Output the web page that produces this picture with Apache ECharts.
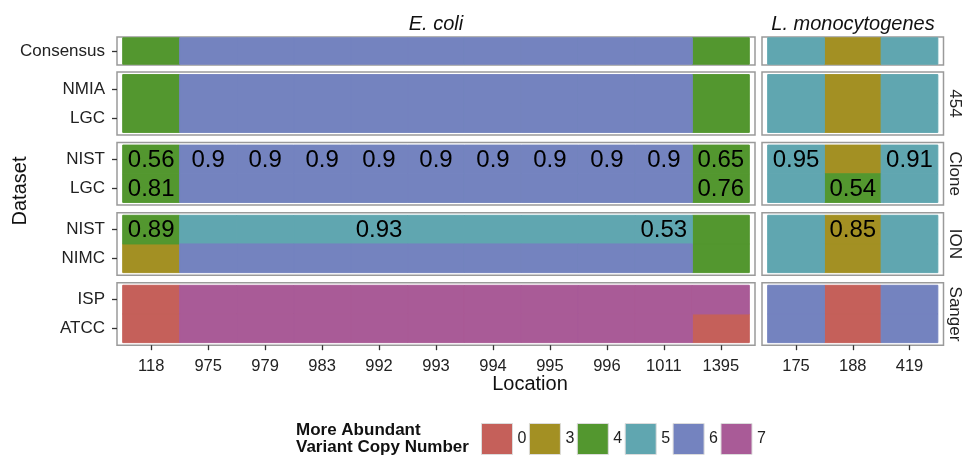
<!DOCTYPE html>
<html>
<head>
    <meta charset="utf-8" />
    <title>More abundant variant copy number</title>
    <script src="https://cdn.jsdelivr.net/npm/echarts@6/dist/echarts.min.js"></script>
    <style>
        body { margin: 0; background: #fff; }
    </style>
</head>
<body>
<div id="main" style="width: 965px;height:457px;"></div>
<script type="text/javascript">
    // facets, row labels and locations
    var facetNames = ['Consensus', '454', 'Clone', 'ION', 'Sanger'];
    var facetDatasets = [['Consensus'], ['NMIA', 'LGC'], ['NIST', 'LGC'], ['NIST', 'NIMC'], ['ISP', 'ATCC']];
    var ecoliLocations = ['118', '975', '979', '983', '992', '993', '994', '995', '996', '1011', '1395'];
    var listeriaLocations = ['175', '188', '419'];
    var copyLevels = [0, 3, 4, 5, 6, 7];
    var copyColors = ['#C5605A', '#A39023', '#53972F', '#60A6B0', '#7483BF', '#A95B97'];

    // more abundant copy number, per facet -> dataset -> location
    var ecoliCopy = [
        [[4, 6, 6, 6, 6, 6, 6, 6, 6, 6, 4]],
        [[4, 6, 6, 6, 6, 6, 6, 6, 6, 6, 4], [4, 6, 6, 6, 6, 6, 6, 6, 6, 6, 4]],
        [[4, 6, 6, 6, 6, 6, 6, 6, 6, 6, 4], [4, 6, 6, 6, 6, 6, 6, 6, 6, 6, 4]],
        [[4, 5, 5, 5, 5, 5, 5, 5, 5, 5, 4], [3, 6, 6, 6, 6, 6, 6, 6, 6, 6, 4]],
        [[0, 7, 7, 7, 7, 7, 7, 7, 7, 7, 7], [0, 7, 7, 7, 7, 7, 7, 7, 7, 7, 0]]
    ];
    var ecoliFraction = [
        [[null, null, null, null, null, null, null, null, null, null, null]],
        [[null, null, null, null, null, null, null, null, null, null, null],
         [null, null, null, null, null, null, null, null, null, null, null]],
        [[0.56, 0.9, 0.9, 0.9, 0.9, 0.9, 0.9, 0.9, 0.9, 0.9, 0.65],
         [0.81, null, null, null, null, null, null, null, null, null, 0.76]],
        [[0.89, null, null, null, 0.93, null, null, null, null, 0.53, null],
         [null, null, null, null, null, null, null, null, null, null, null]],
        [[null, null, null, null, null, null, null, null, null, null, null],
         [null, null, null, null, null, null, null, null, null, null, null]]
    ];
    var listeriaCopy = [
        [[5, 3, 5]],
        [[5, 3, 5], [5, 3, 5]],
        [[5, 3, 5], [5, 4, 5]],
        [[5, 3, 5], [5, 3, 5]],
        [[6, 0, 6], [6, 0, 6]]
    ];
    var listeriaFraction = [
        [[null, null, null]],
        [[null, null, null], [null, null, null]],
        [[0.95, null, 0.91], [null, 0.54, null]],
        [[null, 0.85, null], [null, null, null]],
        [[null, null, null], [null, null, null]]
    ];

    // panel layout
    var FONT = '"Liberation Sans", Arial, sans-serif';
    var colLeft = [117, 762];
    var colWidth = [638, 181.5];
    var rowTop = [37, 72, 142.5, 212.7, 282.7];
    var rowHeight = [28, 63, 62.5, 62.5, 62.5];
    var rowPad = [0.03, 0.09, 0.09, 0.09, 0.09];
    var stripX = 955;

    function renderTile(params, api) {
        var x = api.value(0), y = api.value(1), frac = api.value(2);
        var p0 = api.coord([x - 0.5, y - 0.5]);
        var p1 = api.coord([x + 0.5, y + 0.5]);
        var color = api.visual('color');
        var children = [{
            type: 'rect',
            shape: {
                x: Math.min(p0[0], p1[0]), y: Math.min(p0[1], p1[1]),
                width: Math.abs(p1[0] - p0[0]), height: Math.abs(p1[1] - p0[1])
            },
            style: { fill: color, stroke: color, lineWidth: 1 }
        }];
        if (!isNaN(frac)) {
            var c = api.coord([x, y]);
            children.push({
                type: 'text', z2: 5,
                style: {
                    x: c[0], y: c[1] + 1, text: String(frac),
                    fill: '#000', font: '24px ' + FONT,
                    align: 'center', verticalAlign: 'middle'
                }
            });
        }
        return { type: 'group', children: children };
    }

    var grids = [], xAxes = [], yAxes = [], series = [];
    var stripTexts = [];
    for (var r = 0; r < facetNames.length; r++) {
        for (var c = 0; c < 2; c++) {
            var g = grids.length;
            var locs = c === 0 ? ecoliLocations : listeriaLocations;
            var copy = c === 0 ? ecoliCopy[r] : listeriaCopy[r];
            var frac = c === 0 ? ecoliFraction[r] : listeriaFraction[r];
            var rows = facetDatasets[r];
            var xIdx = locs.map(function (d, i) { return i; });
            var yIdx = rows.map(function (d, i) { return i; });
            var bottom = r === facetNames.length - 1;

            grids.push({
                left: colLeft[c], top: rowTop[r], width: colWidth[c], height: rowHeight[r],
                containLabel: false, outerBoundsMode: 'none',
                show: true, backgroundColor: '#fff', borderColor: '#9a9a9a', borderWidth: 1.5
            });
            xAxes.push({
                gridIndex: g, type: 'value', min: -0.6, max: locs.length - 0.4, z: 10,
                axisLine: { show: true, onZero: false, lineStyle: { color: 'rgba(0,0,0,0)' } },
                splitLine: { show: false },
                axisTick: { show: bottom, inside: false, customValues: xIdx, length: 5, lineStyle: { color: '#333', width: 1.3 } },
                axisLabel: {
                    show: bottom, customValues: xIdx, margin: 13,
                    fontSize: 16.5, fontFamily: FONT, color: '#222',
                    formatter: (function (l) { return function (v) { return l[v]; }; })(locs)
                }
            });
            yAxes.push({
                gridIndex: g, type: 'value', inverse: true, z: 10,
                min: -0.5 - rowPad[r], max: rows.length - 0.5 + rowPad[r],
                axisLine: { show: c === 0, onZero: false, lineStyle: { color: 'rgba(0,0,0,0)' } },
                splitLine: { show: false },
                axisTick: { show: c === 0, inside: false, customValues: yIdx, length: 5, lineStyle: { color: '#333', width: 1.3 } },
                axisLabel: {
                    show: c === 0, customValues: yIdx, margin: 12,
                    fontSize: 17, fontFamily: FONT, color: '#222',
                    formatter: (function (l) { return function (v) { return l[v]; }; })(rows)
                }
            });
            if (c === 1 && r > 0) {
                stripTexts.push({
                    type: 'text', x: stripX, y: rowTop[r] + rowHeight[r] / 2, rotation: -Math.PI / 2,
                    style: { text: facetNames[r], font: '17px ' + FONT, fill: '#222', align: 'center', verticalAlign: 'middle' }
                });
            }

            // one series per copy number so the legend picks them up
            copyLevels.forEach(function (lv, k) {
                var data = [];
                for (var yi = 0; yi < rows.length; yi++) {
                    for (var xi = 0; xi < locs.length; xi++) {
                        if (copy[yi][xi] === lv) {
                            data.push([xi, yi, frac[yi][xi] === null ? '-' : frac[yi][xi]]);
                        }
                    }
                }
                series.push({
                    type: 'custom', name: String(lv),
                    xAxisIndex: g, yAxisIndex: g,
                    itemStyle: { color: copyColors[k] },
                    renderItem: renderTile,
                    data: data
                });
            });
        }
    }

    var myChart = echarts.init(document.getElementById('main'));
    var option = {
        animation: false,
        grid: grids,
        xAxis: xAxes,
        yAxis: yAxes,
        legend: {
            data: copyLevels.map(String),
            left: 481, top: 423, padding: 0,
            icon: 'rect', itemWidth: 31, itemHeight: 31, itemGap: 2.5,
            selectedMode: false,
            itemStyle: { borderColor: '#dcdcdc', borderWidth: 1 },
            textStyle: { fontSize: 16, fontFamily: FONT, color: '#222' }
        },
        graphic: stripTexts.concat([
            { type: 'text', x: 436, y: 24, style: { text: 'E. coli', font: 'italic 20px ' + FONT, fill: '#111', align: 'center', verticalAlign: 'middle' } },
            { type: 'text', x: 853, y: 24, style: { text: 'L. monocytogenes', font: 'italic 20px ' + FONT, fill: '#111', align: 'center', verticalAlign: 'middle' } },
            { type: 'text', x: 20, y: 191, rotation: Math.PI / 2, style: { text: 'Dataset', font: '20px ' + FONT, fill: '#111', align: 'center', verticalAlign: 'middle' } },
            { type: 'text', x: 530, y: 384, style: { text: 'Location', font: '20px ' + FONT, fill: '#111', align: 'center', verticalAlign: 'middle' } },
            { type: 'text', x: 296, y: 422, style: { text: 'More Abundant\nVariant Copy Number', font: 'bold 17px ' + FONT, lineHeight: 17, fill: '#111' } }
        ]),
        series: series
    };
    myChart.setOption(option);
</script>
</body>
</html>
